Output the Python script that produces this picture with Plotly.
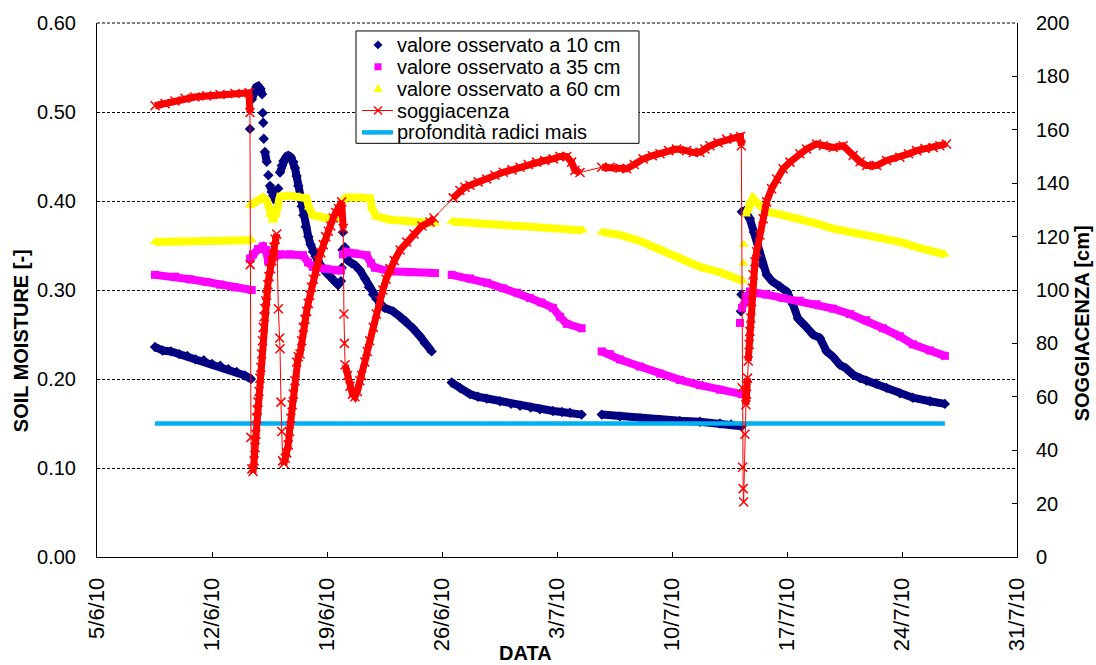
import pandas as pd
import plotly.graph_objects as go

# ---------------- DATA (days counted from 5/6/2010 00:00) ----------------
ORIGINE = "2010-06-05"

etichette_x = ["5/6/10", "12/6/10", "19/6/10", "26/6/10", "3/7/10",
               "10/7/10", "17/7/10", "24/7/10", "31/7/10"]
giorni_tick = [0, 7, 14, 21, 28, 35, 42, 49, 56]

# valore osservato a 10 cm
giorni_10 = [3.53, 4.0, 4.5, 5.0, 5.5, 6.0, 6.5, 7.0, 7.5, 8.0, 8.5, 9.0, 9.37, None,
             9.31, 9.42, 9.56, 9.70, 9.82, 9.95, 10.05, 10.09, 10.12, 10.15, 10.22, 10.33,
             10.43, 10.53, 10.63, 10.73, 10.84, 10.94, 11.03, 11.14, 11.25, 11.35, 11.44,
             11.54, 11.64, 11.73, 11.81, 11.95, 12.05, 12.15, 12.25, 12.36, 12.46, 12.56,
             12.70, 12.86, 13.0, 13.15, 13.30, 13.45, 13.60, 13.76, 13.95, 14.18, 14.40,
             14.67, 14.85, 14.90, 14.94, 14.97, 15.09, 15.28, 15.50, 15.70, 16.01, 16.31,
             16.55, 16.80, 17.0, 17.22, 17.5, 18.02, 18.44, 18.8, 19.23, 19.66, 19.96, 20.37, None,
             21.59, 22.09, 22.70, 23.2, 23.72, 24.53, 25.2, 25.75, 26.4, 26.96, 27.75, 28.3,
             28.79, 29.50, None,
             30.72, 31.83, 33.05, 34.27, 35.48, 36.70, 37.92, 38.6, 39.24, None,
             39.19, 39.22, 39.25, 39.44, 39.74, 39.99, 40.25, 40.48, 40.76, 41.08, 41.57,
             42.00, 42.36, 42.67, 43.09, 43.58, 44.00, 44.41, 44.80, 45.22, 45.59, 46.01,
             46.44, 46.84, 47.41, 48.06, 48.87, 49.66, 50.70, 51.61]
valori_10 = [0.236, 0.232, 0.231, 0.228, 0.226, 0.222, 0.221, 0.217, 0.215, 0.211, 0.208, 0.204, 0.200, None,
             0.481, 0.514, 0.524, 0.528, 0.529, 0.526, 0.520, 0.499, 0.488, 0.470, 0.455, 0.444,
             0.429, 0.417, 0.410, 0.406, 0.402, 0.399, 0.414, 0.432, 0.440, 0.445, 0.447,
             0.450, 0.451, 0.450, 0.449, 0.444, 0.437, 0.428, 0.417, 0.405, 0.394, 0.384,
             0.371, 0.360, 0.351, 0.343, 0.338, 0.333, 0.328, 0.324, 0.319, 0.315, 0.311,
             0.306, 0.310, 0.325, 0.345, 0.365, 0.348, 0.333, 0.330, 0.328, 0.322, 0.313,
             0.303, 0.295, 0.290, 0.285, 0.280, 0.276, 0.270, 0.265, 0.257, 0.248, 0.240, 0.231, None,
             0.196, 0.190, 0.183, 0.180, 0.178, 0.175, 0.172, 0.170, 0.168, 0.166, 0.164, 0.163,
             0.162, 0.160, None,
             0.160, 0.158, 0.156, 0.154, 0.153, 0.152, 0.150, 0.149, 0.147, None,
             0.276, 0.295, 0.388, 0.389, 0.380, 0.365, 0.343, 0.328, 0.317, 0.310, 0.304,
             0.298, 0.284, 0.268, 0.260, 0.250, 0.246, 0.231, 0.225, 0.216, 0.212, 0.205,
             0.201, 0.198, 0.195, 0.190, 0.184, 0.179, 0.175, 0.172]

# valore osservato a 35 cm
giorni_35 = [3.53, 4.75, 5.66, 6.68, 7.49, 8.40, 9.42, None,
             9.31, 9.49, 9.80, 10.10, 10.29, 10.41, 10.65, 11.14, 11.75, 12.54, 12.84, 13.15,
             13.88, 14.59, 14.85, 14.97, 15.16, 15.70, 16.41, 16.68, 16.92, 17.83, 19.05, 20.57, None,
             21.59, 22.70, 23.74, 24.71, 25.56, 26.35, 27.02, 27.75, 28.18, 28.59, 29.50, None,
             30.72, 31.22, 31.83, 33.05, 34.27, 35.48, 36.70, 37.92, 39.24, None,
             39.14, 39.26, 39.50, 39.74, 40.71, 41.74, 42.78, 43.80, 44.80, 45.83, 46.81,
             47.84, 48.87, 49.66, 50.70, 51.61]
valori_35 = [0.317, 0.315, 0.312, 0.309, 0.306, 0.303, 0.300, None,
             0.335, 0.340, 0.346, 0.349, 0.345, 0.333, 0.336, 0.340, 0.340, 0.339, 0.331, 0.326,
             0.324, 0.322, 0.322, 0.340, 0.343, 0.341, 0.339, 0.330, 0.325, 0.321, 0.320, 0.319, None,
             0.317, 0.313, 0.308, 0.302, 0.297, 0.291, 0.286, 0.280, 0.270, 0.262, 0.257, None,
             0.231, 0.228, 0.222, 0.214, 0.206, 0.199, 0.193, 0.188, 0.183, None,
             0.263, 0.280, 0.292, 0.298, 0.295, 0.291, 0.288, 0.284, 0.279, 0.273, 0.266,
             0.257, 0.248, 0.239, 0.232, 0.226]

# valore osservato a 60 cm
giorni_60 = [3.53, 5.0, 6.27, 8.0, 9.42, None,
             9.31, 9.68, 10.10, 10.35, 10.53, 10.71, 10.89, 11.14, 11.75, 12.30, 12.76, 12.90,
             13.15, 13.88, 14.59, 14.85, 14.97, 15.16, 16.01, 16.62, 16.74, 16.98, 17.83, 18.85,
             19.66, 20.57, None,
             21.59, 23.0, 24.53, 26.0, 26.96, 28.3, 29.58, None,
             30.72, 31.83, 33.05, 34.27, 35.48, 36.70, 37.92, 39.32, None,
             39.35, 39.38, 39.50, 39.74, 39.93, 40.23, 40.76, 41.57, 42.78, 43.75, 44.80, 45.83,
             46.84, 47.84, 48.87, 50.09, 51.61]
valori_60 = [0.354, 0.355, 0.355, 0.355, 0.356, None,
             0.395, 0.400, 0.404, 0.400, 0.385, 0.378, 0.385, 0.405, 0.406, 0.405, 0.403, 0.393,
             0.384, 0.381, 0.380, 0.381, 0.400, 0.404, 0.404, 0.403, 0.392, 0.383, 0.379, 0.377,
             0.376, 0.375, None,
             0.377, 0.375, 0.373, 0.371, 0.370, 0.368, 0.367, None,
             0.365, 0.362, 0.355, 0.346, 0.337, 0.326, 0.320, 0.310, None,
             0.330, 0.351, 0.385, 0.399, 0.403, 0.397, 0.388, 0.385, 0.380, 0.375, 0.369, 0.365,
             0.362, 0.358, 0.354, 0.347, 0.340]

# soggiacenza [cm]
giorni_sogg = [3.53, 4.14, 4.75, 5.36, 5.96, 6.68, 7.49, 8.40, 9.25, 9.31, 9.33, 9.37, 9.43,
               9.50, 9.56, 9.62, 9.67, 9.72, 9.76, 9.80, 9.86, 9.92, 9.97, 10.02, 10.07, 10.12,
               10.17, 10.22, 10.27, 10.33, 10.40, 10.47, 10.55, 10.63, 10.70, 10.77, 10.85, 10.94,
               11.04, 11.12, 11.14, 11.20, 11.25, 11.30, 11.38, 11.46, 11.55, 11.64, 11.72, 11.80,
               11.88, 11.95, 12.05, 12.15, 12.25, 12.36, 12.46, 12.56, 12.66, 12.76, 12.86, 12.96,
               13.06, 13.17, 13.32, 13.47, 13.62, 13.77, 13.92, 14.08, 14.23, 14.38, 14.53, 14.69,
               14.89, 14.99, 15.03, 15.06, 15.10, 15.25, 15.40, 15.55, 15.70, 15.85, 16.00, 16.11,
               16.30, 16.45, 16.60, 16.82, 17.00, 17.22, 17.40, 17.60, 17.83, 18.10, 18.45, 18.85,
               19.30, 19.78, 20.27, 20.51, 21.68, 22.09, 22.40, 22.70, 23.20, 23.72, 24.22, 24.73,
               25.26, 25.75, 26.25, 26.76, 27.25, 27.77, 28.18, 28.59, 28.89, 29.09, 29.40, 30.72,
               31.22, 31.83, 32.24, 32.70, 33.25, 33.80, 34.27, 34.80, 35.28, 35.89, 36.30, 36.70,
               37.00, 37.31, 37.80, 38.33, 38.80, 39.17, 39.22, 39.27, 39.30, 39.33, 39.36, 39.44,
               39.50, 39.54, 39.60, 39.64, 39.70, 39.74, 39.80, 39.85, 39.90, 39.94, 40.05, 40.15,
               40.35, 40.55, 40.76, 41.06, 41.37, 41.77, 42.18, 42.78, 43.19, 43.80, 44.21, 44.81,
               45.42, 46.03, 46.45, 46.85, 47.46, 48.06, 48.87, 49.40, 49.89, 50.40, 50.90, 51.30,
               51.71]
valori_sogg = [169.0, 169.8, 170.8, 171.8, 172.3, 172.7, 173.2, 173.6, 173.9, 166.5, 109.5, 44.8, 33.0,
               32.0, 36, 41, 46, 52, 55, 58, 62, 67, 71, 76, 81, 86,
               90, 93, 96, 98, 102, 105, 108, 111, 113, 116, 119, 121,
               93, 82, 78, 58, 47, 36, 35, 37, 39, 42, 47, 52,
               57, 61, 66, 73, 75, 76, 81, 86, 89, 92, 95, 98,
               101, 104, 107, 111, 114, 117, 120, 122, 124, 127, 129, 130.5,
               133, 123, 91, 80, 72, 68, 64, 61, 60, 62, 66, 68,
               73, 77, 81, 86, 91, 96, 100, 104, 108, 111, 115, 118,
               121, 124, 125.5, 127, 134.5, 137.3, 138.5, 139.2, 140.5, 141.6, 143, 144.1,
               145, 146, 147, 147.9, 148.5, 149.1, 150, 150, 147.9, 144.8, 144, 146,
               146, 145.6, 145.4, 147, 149.1, 150.3, 151, 152.2, 152.8, 152.2, 151.5, 151.6,
               152.8, 154, 155.2, 156.5, 157, 157.5, 154, 63.4, 33.6, 25.6, 20.6, 46,
               57, 61, 67, 73.4, 79.6, 84.5, 89.5, 95.7, 100.7, 105.7, 110.6, 114.3,
               120.6, 126.7, 133, 137.9, 141.6, 145.4, 147.9, 151, 152.8, 154.7, 154, 153.4,
               154, 150.4, 148, 146.6, 146.6, 148.5, 149.7, 151, 152.2, 153, 153.4, 154,
               154.7]

# profondità radici mais
giorni_radici = [3.53, 51.61]
valori_radici = [0.15, 0.15]

nomi_legenda = ["valore osservato a 10 cm", "valore osservato a 35 cm",
                "valore osservato a 60 cm", "soggiacenza", "profondità radici mais"]

# ---------------- helpers ----------------
base = pd.Timestamp(ORIGINE)


def to_dates(days):
    return [None if d is None else base + pd.to_timedelta(d, unit="D") for d in days]


def ribbon(days, vals, max_slope, max_gap=None):
    """Break the connecting band where the series jumps (sparse in the original)."""
    xs, ys = [], []
    prev = None
    for d, v in zip(days, vals):
        if d is None or v is None:
            xs.append(None); ys.append(None); prev = None
            continue
        if prev is not None:
            dd = d - prev[0]
            slope = abs(v - prev[1]) / dd if dd > 0 else 1e9
            if slope > max_slope or (max_gap is not None and dd > max_gap):
                xs.append(None); ys.append(None)
        xs.append(d); ys.append(v)
        prev = (d, v)
    return to_dates(xs), ys


# pixel -> paper conversion for layout positions
PL, PR, PT, PB = 97, 1017, 20, 557


def px(x):
    return (x - PL) / (PR - PL)


def py(y):
    return (PB - y) / (PB - PT)


FONT = "Liberation Sans, Arial, sans-serif"
NAVY, MAGENTA, YELLOW, RED, CYAN = "#000080", "#FF00FF", "#FFFF00", "#FF0000", "#00B0F0"

fig = go.Figure()

series = [
    (nomi_legenda[0], giorni_10, valori_10, NAVY, "diamond", 8),
    (nomi_legenda[1], giorni_35, valori_35, MAGENTA, "square", 8),
    (nomi_legenda[2], giorni_60, valori_60, YELLOW, "triangle-up", 9),
]
for name, dd, vv, col, sym, sz in series:
    rx, ry = ribbon(dd, vv, 0.12)
    fig.add_trace(go.Scatter(x=rx, y=ry, mode="lines", line=dict(color=col, width=8),
                             showlegend=False, hoverinfo="skip"))
    fig.add_trace(go.Scatter(x=to_dates(dd), y=vv, mode="markers", name=name,
                             marker=dict(symbol=sym, size=sz, color=col, line=dict(width=0)),
                             showlegend=False))

fig.add_trace(go.Scatter(x=to_dates(giorni_radici), y=valori_radici, mode="lines",
                         name=nomi_legenda[4], line=dict(color=CYAN, width=4.5),
                         showlegend=False))

rx, ry = ribbon(giorni_sogg, valori_sogg, 130, max_gap=1.05)
fig.add_trace(go.Scatter(x=rx, y=ry, mode="lines", line=dict(color=RED, width=7),
                         yaxis="y2", showlegend=False, hoverinfo="skip"))
fig.add_trace(go.Scatter(x=to_dates(giorni_sogg), y=valori_sogg, mode="lines+markers",
                         name=nomi_legenda[3], yaxis="y2", line=dict(color=RED, width=1),
                         marker=dict(symbol="x-thin", size=9, color=RED,
                                     line=dict(width=1.5, color=RED)),
                         showlegend=False))

# ---------------- custom legend (box, symbols, labels) ----------------
shapes = []
annotations = []

# dashed top border (gridline at 0.60)
shapes.append(dict(type="line", xref="paper", yref="paper", layer="below",
                   x0=0, x1=1, y0=1, y1=1, line=dict(color="black", width=1, dash="3px,2px")))

LX0, LX1, LY0, LY1 = 356, 639, 28, 141
rows = [42, 64, 86, 108, 130]
mx = 378
shapes.append(dict(type="rect", xref="paper", yref="paper", layer="above",
                   x0=px(LX0), x1=px(LX1), y0=py(LY1), y1=py(LY0),
                   fillcolor="white", line=dict(color="black", width=1)))


def path(points):
    return "M " + " L ".join(f"{px(a):.5f},{py(b):.5f}" for a, b in points) + " Z"


r = rows[0]
shapes.append(dict(type="path", xref="paper", yref="paper", layer="above",
                   path=path([(mx, r - 4.5), (mx + 4.5, r), (mx, r + 4.5), (mx - 4.5, r)]),
                   fillcolor=NAVY, line=dict(width=0)))
r = rows[1]
shapes.append(dict(type="rect", xref="paper", yref="paper", layer="above",
                   x0=px(mx - 3.5), x1=px(mx + 3.5), y0=py(r + 3.5), y1=py(r - 3.5),
                   fillcolor=MAGENTA, line=dict(width=0)))
r = rows[2]
shapes.append(dict(type="path", xref="paper", yref="paper", layer="above",
                   path=path([(mx, r - 5), (mx + 4.5, r + 3.5), (mx - 4.5, r + 3.5)]),
                   fillcolor=YELLOW, line=dict(width=0)))
r = rows[3]
shapes.append(dict(type="line", xref="paper", yref="paper", layer="above",
                   x0=px(362), x1=px(393), y0=py(r), y1=py(r), line=dict(color=RED, width=1)))
for (a, b, c, d) in [(mx - 4, r - 4, mx + 4, r + 4), (mx - 4, r + 4, mx + 4, r - 4)]:
    shapes.append(dict(type="line", xref="paper", yref="paper", layer="above",
                       x0=px(a), y0=py(b), x1=px(c), y1=py(d), line=dict(color=RED, width=1.5)))
r = rows[4]
shapes.append(dict(type="line", xref="paper", yref="paper", layer="above",
                   x0=px(362), x1=px(393), y0=py(r), y1=py(r), line=dict(color=CYAN, width=4.5)))

for nome, r in zip(nomi_legenda, rows):
    annotations.append(dict(text=nome, xref="paper", yref="paper", x=px(395), y=py(r),
                            xanchor="left", yanchor="middle", showarrow=False,
                            font=dict(size=20, family=FONT, color="black")))

# axis titles
annotations += [
    dict(text="<b>SOIL MOISTURE [-]</b>", xref="paper", yref="paper",
         x=px(21), y=py(340), textangle=-90, showarrow=False,
         xanchor="center", yanchor="middle", font=dict(size=20, family=FONT)),
    dict(text="<b>SOGGIACENZA [cm]</b>", xref="paper", yref="paper",
         x=px(1082), y=py(322), textangle=-90, showarrow=False,
         xanchor="center", yanchor="middle", font=dict(size=20, family=FONT)),
    dict(text="<b>DATA</b>", xref="paper", yref="paper",
         x=px(525), y=py(654), showarrow=False,
         xanchor="center", yanchor="middle", font=dict(size=20, family=FONT)),
]

tickdates = to_dates(giorni_tick)

fig.update_layout(
    width=1096, height=665,
    margin=dict(l=PL, r=1096 - PR, t=PT, b=665 - PB),
    paper_bgcolor="white", plot_bgcolor="white",
    font=dict(family=FONT, size=20, color="black"),
    showlegend=False,
    xaxis=dict(type="date", range=[tickdates[0], tickdates[-1]],
               tickmode="array", tickvals=tickdates, ticktext=etichette_x,
               tickangle=-90, ticks="inside", ticklen=5, tickcolor="black",
               showline=True, linecolor="black", linewidth=1, showgrid=False,
               zeroline=False, ticklabelstandoff=11,
               tickfont=dict(size=22, family=FONT)),
    yaxis=dict(range=[0, 0.6], dtick=0.1, tick0=0, tickformat=".2f",
               showgrid=True, gridcolor="black", gridwidth=1, griddash="3px,2px",
               showline=True, linecolor="black", linewidth=1, ticks="",
               zeroline=False, ticklabelstandoff=16,
               tickfont=dict(size=20, family=FONT)),
    yaxis2=dict(range=[0, 200], dtick=20, tick0=0, overlaying="y", side="right",
                showgrid=False, showline=True, linecolor="black", linewidth=1,
                ticks="inside", ticklen=5, tickcolor="black", zeroline=False,
                ticklabelstandoff=14, tickfont=dict(size=20, family=FONT)),
    shapes=shapes,
    annotations=annotations,
)

fig.write_html("out.html",
               config={"displayModeBar": False},
               post_script="document.body.style.margin='0px';"
                           "document.body.style.overflow='hidden';")
